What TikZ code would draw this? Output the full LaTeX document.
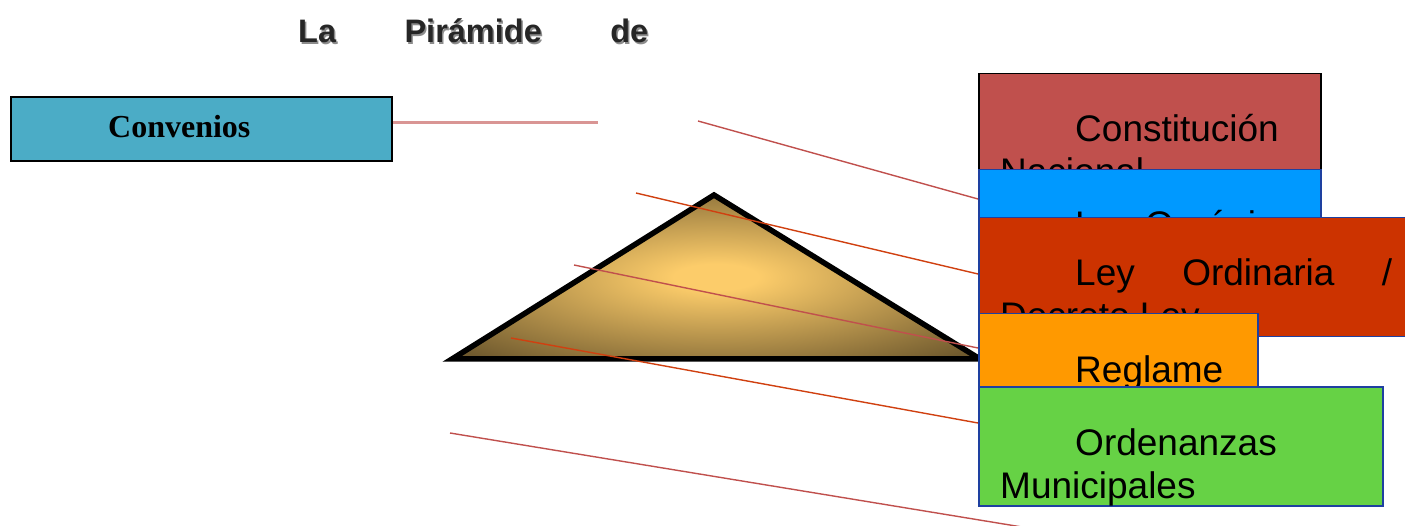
\documentclass[tikz,border=0pt]{standalone}
\usepackage{fontspec}
\setmainfont{Liberation Sans}
\newfontfamily\timesbold{Liberation Serif}[BoldFont={Liberation Serif Bold}]
\usepackage{xcolor}
\usetikzlibrary{
    positioning,
    calc
}

\definecolor{convblue}{RGB}{75,172,198}
\definecolor{convline}{RGB}{217,149,148}
\definecolor{constred}{RGB}{192,80,77}
\definecolor{organblue}{RGB}{0,153,255}
\definecolor{ordinred}{RGB}{204,51,0}
\definecolor{reglaorange}{RGB}{255,153,0}
\definecolor{ordengreen}{RGB}{102,210,69}
\definecolor{levelborder}{RGB}{30,64,160}
\definecolor{pinkline}{RGB}{192,80,77}
\definecolor{redline}{RGB}{208,64,16}
\definecolor{pyrlight}{RGB}{252,204,106}
\definecolor{pyrdark}{RGB}{112,90,46}

\pgfdeclareradialshading{pyrshade}{\pgfpoint{0bp}{0bp}}{%
color(0bp)=(pyrlight); color(4bp)=(pyrlight);
color(33bp)=(pyrdark); color(50bp)=(pyrdark)}

\begin{document}
\begin{tikzpicture}[
x=1pt, y=-1pt,
level/.style={
draw=levelborder,
line width=1.5pt,
anchor=north west,
minimum height=119pt,
inner sep=0pt
},
leveltext/.style={
anchor=base west,
inner sep=0pt,
font=\fontsize{37}{43}\selectfont
},
link/.style={line width=1.4pt}
]

\useasboundingbox (0,0) rectangle (1405,526);

\node[anchor=base west, inner sep=0pt, text=black!45,
font=\fontsize{32.5}{38}\selectfont\bfseries] (titleshadow) at (299.5,44.5)
{\makebox[350pt][s]{La Pirámide de}};
\node[anchor=base west, inner sep=0pt, text=black!85,
font=\fontsize{32.5}{38}\selectfont\bfseries] (title) at (298,43)
{\makebox[350pt][s]{La Pirámide de}};

\node[draw, line width=2pt, fill=convblue, anchor=north west,
minimum width=381pt, minimum height=64pt, inner sep=0pt] (convenios) at (10,96) {};
\node[anchor=base west, inner sep=0pt,
font=\timesbold\fontsize{32}{38}\selectfont\bfseries] (conventxt)
at ($(convenios.north west)+(98,42)$) {Convenios};

\coordinate (convend) at (598,123);
\draw[line width=3pt, convline] (convenios.east |- convend) -- (convend);

% piramide
\coordinate (pleft) at (452,359);
\coordinate (ptop) at (714,195);
\coordinate (pright) at (980,359);
\shade[shading=pyrshade] (pleft) -- (ptop) -- (pright) -- cycle;
\draw[line width=5.5pt] (pleft) -- (ptop) -- (pright) -- cycle;

\coordinate (l1a) at (698,121);
\coordinate (l2a) at (636,193);
\coordinate (l3a) at (574,265);
\coordinate (l4a) at (511,338);
\coordinate (l5a) at (450,433);
\coordinate (l1b) at (978,199);
\coordinate (l2b) at (978,274);
\coordinate (l3b) at (978,348);
\coordinate (l4b) at (978,423);
\coordinate (l5b) at (1022,527);

\draw[link, pinkline] (l1a) -- (l1b);
\draw[link, redline] (l2a) -- (l2b);
\draw[link, pinkline] (l3a) -- (l3b);
\draw[link, redline] (l4a) -- (l4b);
\draw[link, pinkline] (l5a) -- (l5b);

\node[level, draw=black, fill=constred, minimum width=342pt] (consti) at (978,73) {};
\node[leveltext] (constitxt) at ($(consti.north west)+(97,69)$) {Constitución};
\node[leveltext] (nacionaltxt) at ($(consti.north west)+(22,112)$) {Nacional};

\node[level, fill=organblue, minimum width=342pt] (organica) at (978,169) {};
\node[leveltext] (organicatxt) at ($(organica.north west)+(97,69)$) {Ley Orgánica};

\node[level, fill=ordinred, minimum width=460pt] (ordinaria) at (978,217) {};
\node[leveltext] (ordinariatxt) at ($(ordinaria.north west)+(97,69)$)
{\makebox[317pt][s]{Ley Ordinaria /}};
\node[leveltext] (decretotxt) at ($(ordinaria.north west)+(22,112)$) {Decreto Ley};

\node[level, fill=reglaorange, minimum width=279pt] (reglamento) at (978,313) {};
\node[leveltext] (reglamentotxt) at ($(reglamento.north west)+(97,69)$) {Reglame};

\node[level, fill=ordengreen, minimum width=404pt] (ordenanzas) at (978,386) {};
\node[leveltext] (ordenanzastxt) at ($(ordenanzas.north west)+(97,69)$) {Ordenanzas};
\node[leveltext] (municipalestxt) at ($(ordenanzas.north west)+(22,112)$) {Municipales};

\end{tikzpicture}
\end{document}
